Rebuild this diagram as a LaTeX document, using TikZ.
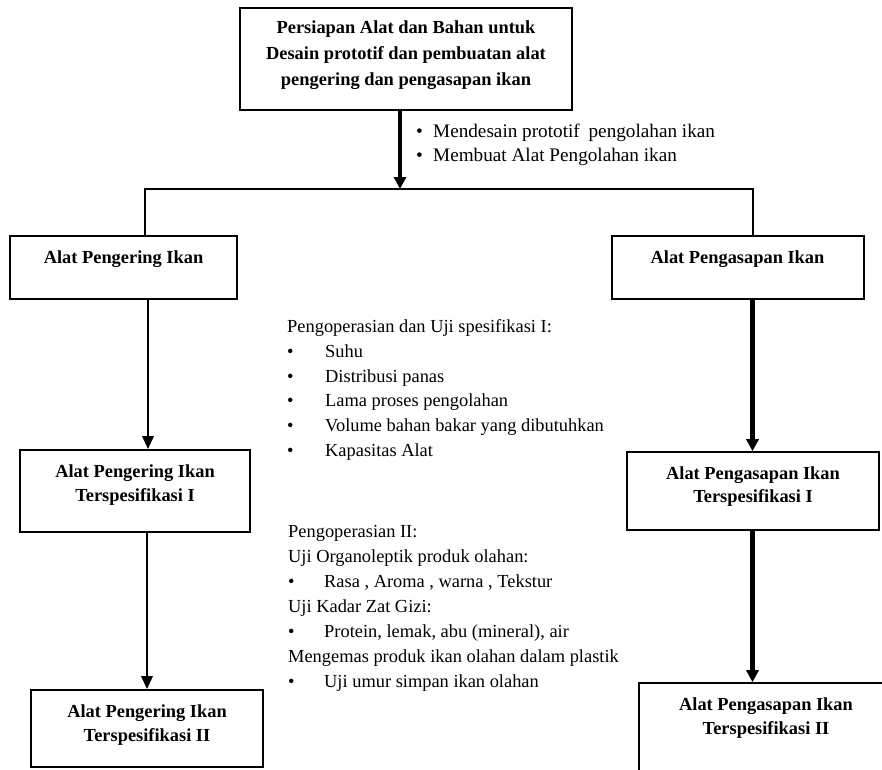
\documentclass[tikz,border=0pt]{standalone}
\usepackage{fontspec}
\setmainfont{Liberation Serif}
\usetikzlibrary{arrows.meta}
\begin{document}
\begin{tikzpicture}[x=1pt,y=-1pt,
  every node/.style={font=\fontsize{18.4}{24.8}\selectfont},
  boxshape/.style={draw, line width=1.6pt, inner sep=0pt},
  boxtext/.style={font=\fontsize{18.4}{23.5}\selectfont\bfseries, align=center, inner sep=0pt},
  titletext/.style={font=\fontsize{18.4}{26}\selectfont\bfseries, align=center, inner sep=0pt},
  plaintext/.style={align=left, inner sep=0pt, anchor=north west},
  thinarrow/.style={line width=2.8pt, -{Triangle[width=11pt,length=13pt]}},
  thickarrow/.style={line width=4.8pt, -{Triangle[width=12pt,length=12pt]}},
  conn/.style={line width=2.2pt}
]
\path[use as bounding box] (0,0) rectangle (882,769);
\clip (0,0) rectangle (882,769);

% boxes
\node[boxshape, minimum width=332pt, minimum height=102pt] (top) at (406,59) {};
\node[titletext] (toptext) at (406,55) {Persiapan Alat dan Bahan untuk\\Desain prototif dan pembuatan alat\\pengering dan pengasapan ikan};

\node[boxshape, minimum width=227pt, minimum height=63pt] (l1) at (123.5,267.5) {};
\node[boxtext] (l1t) at (123.5,258.7) {Alat Pengering Ikan};

\node[boxshape, minimum width=252pt, minimum height=63pt] (r1) at (738,267.5) {};
\node[boxtext] (r1t) at (737.5,258.7) {Alat Pengasapan Ikan};

\node[boxshape, minimum width=230pt, minimum height=82pt] (l2) at (135,491) {};
\node[boxtext] (l2t) at (135,485) {Alat Pengering Ikan\\Terspesifikasi I};

\node[boxshape, minimum width=252pt, minimum height=78pt] (r2) at (753,491) {};
\node[boxtext] (r2t) at (753,486.5) {Alat Pengasapan Ikan\\Terspesifikasi I};

\node[boxshape, minimum width=232pt, minimum height=77pt] (l3) at (147,728.5) {};
\node[boxtext] (l3t) at (147,725) {Alat Pengering Ikan\\Terspesifikasi II};

\node[boxshape, minimum width=254pt, minimum height=140pt] (r3) at (766,753) {};
\node[boxtext] (r3t) at (766,718) {Alat Pengasapan Ikan\\Terspesifikasi II};

% connector helper coordinates
\coordinate (j) at (400,189);
\coordinate (jl) at (145,189);
\coordinate (jr) at (753,189);
\coordinate (al) at (148,0);
\coordinate (al2) at (147,0);
\coordinate (ar) at (752.5,0);

\draw[thickarrow] (top.south -| j) -- (j);
\draw[conn] (l1.north -| jl) -- (jl) -- (jr) -- (r1.north -| jr);
\draw[thinarrow] (l1.south -| al) -- (l2.north -| al);
\draw[thinarrow] (l2.south -| al2) -- (l3.north -| al2);
\draw[thickarrow] (r1.south -| ar) -- (r2.north -| ar);
\draw[thickarrow] (r2.south -| ar) -- (r3.north -| ar);

% texts
\node[plaintext, font=\fontsize{19.2}{24}\selectfont] (steps) at (416,124) {\makebox[17pt][l]{\textbullet}Mendesain prototif\hspace{4pt} pengolahan ikan\\
\makebox[17pt][l]{\textbullet}Membuat Alat Pengolahan ikan};

\node[plaintext] (spec1) at (287,319.4) {Pengoperasian dan Uji spesifikasi I:\\
\makebox[38pt][l]{\textbullet}Suhu\\
\makebox[38pt][l]{\textbullet}Distribusi panas\\
\makebox[38pt][l]{\textbullet}Lama proses pengolahan\\
\makebox[38pt][l]{\textbullet}Volume bahan bakar yang dibutuhkan\\
\makebox[38pt][l]{\textbullet}Kapasitas Alat};

\node[plaintext, font=\fontsize{18.4}{25}\selectfont] (spec2) at (288,524.8) {Pengoperasian II:\\
Uji Organoleptik produk olahan:\\
\makebox[36pt][l]{\textbullet}Rasa , Aroma , warna , Tekstur\\
Uji Kadar Zat Gizi:\\
\makebox[36pt][l]{\textbullet}Protein, lemak, abu (mineral), air\\
Mengemas produk ikan olahan dalam plastik\\
\makebox[36pt][l]{\textbullet}Uji umur simpan ikan olahan};
\end{tikzpicture}
\end{document}
